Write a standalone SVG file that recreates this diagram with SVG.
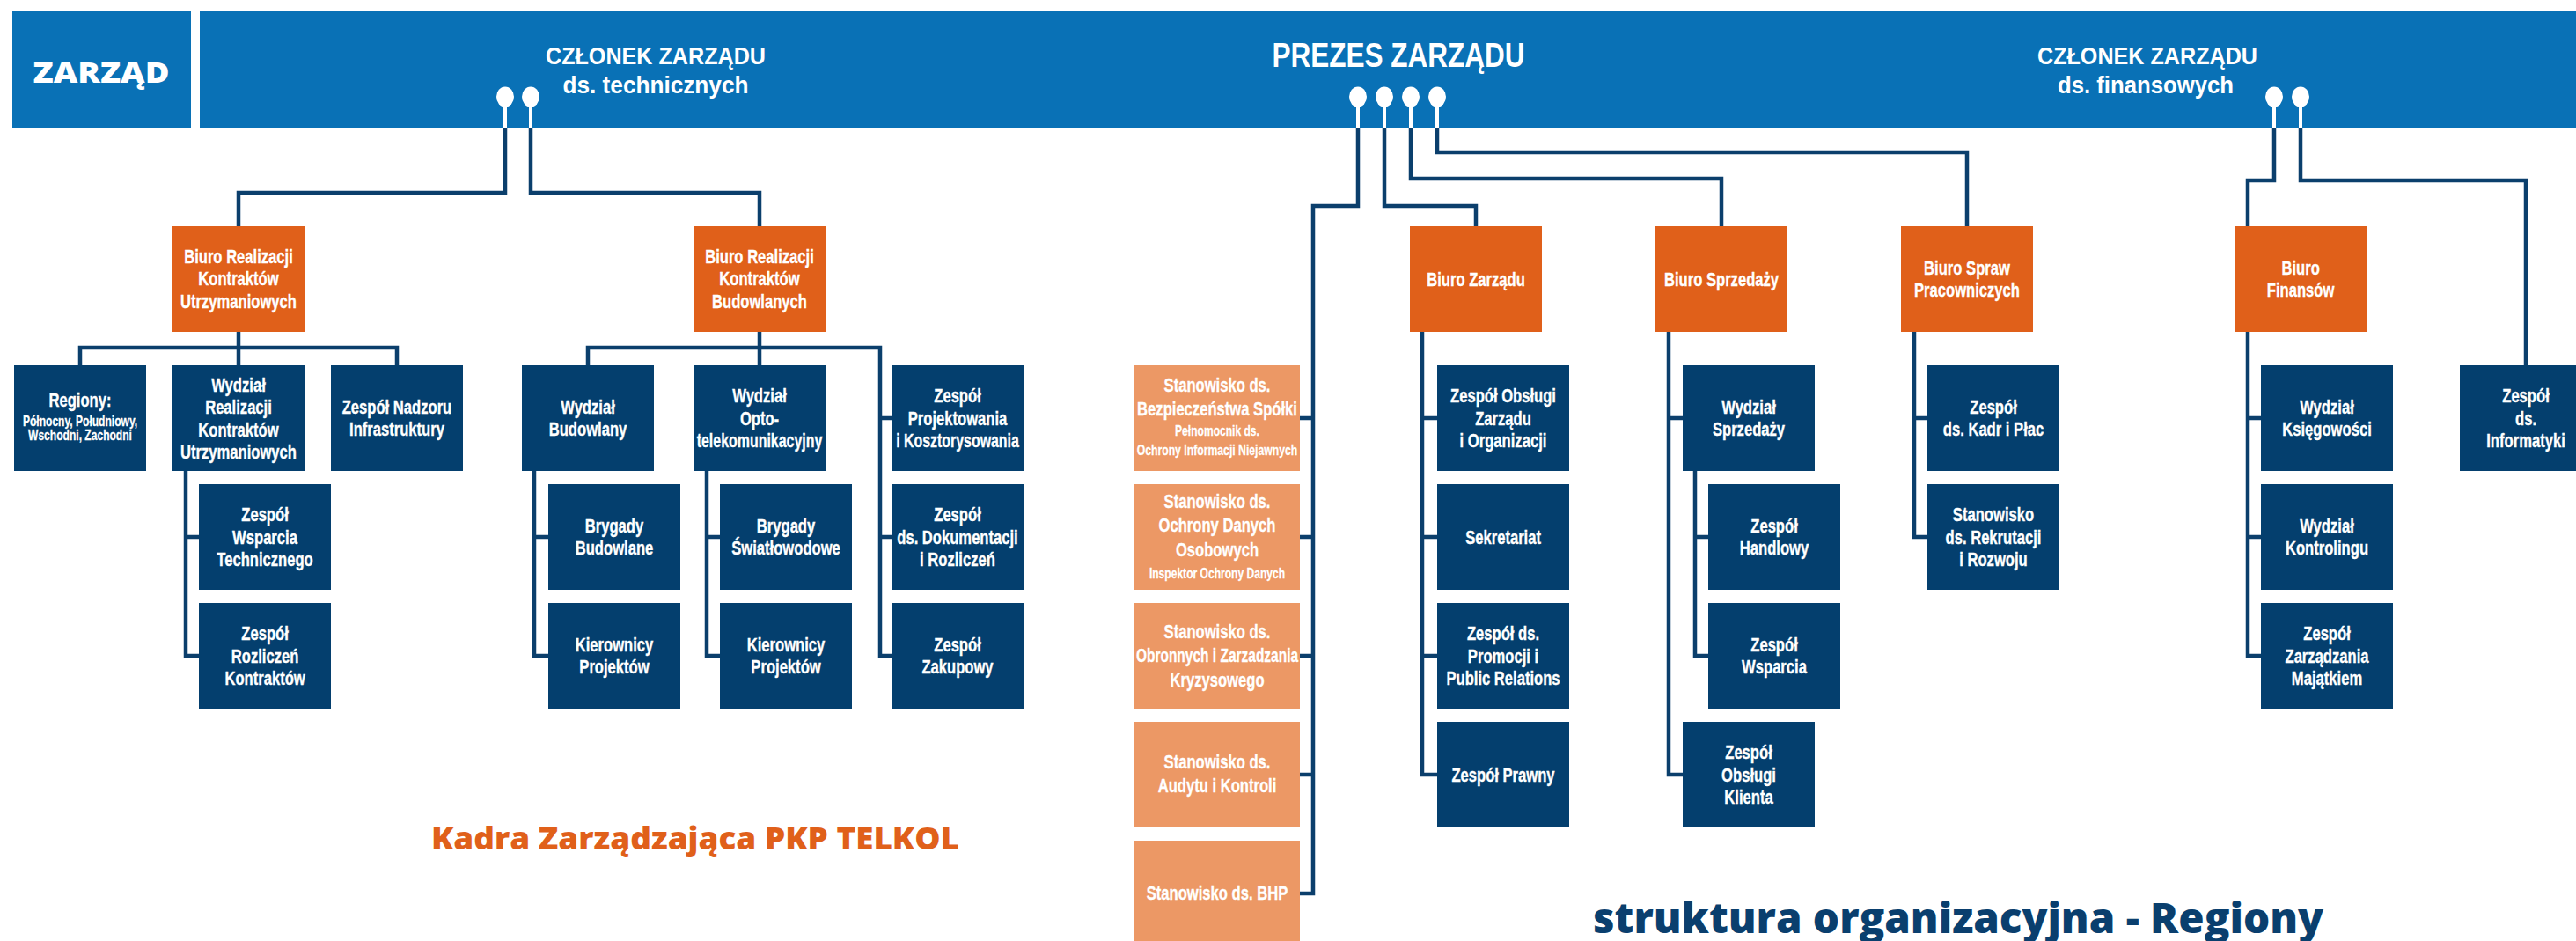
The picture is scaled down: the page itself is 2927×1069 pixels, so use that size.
<svg xmlns="http://www.w3.org/2000/svg" width="2927" height="1069" viewBox="0 0 2927 1069">
<style>
.hb{fill:#0971b6}
.nv{fill:#043f6e}
.or{fill:#e0601a}
.lo{fill:#ec9865}
.t{font-family:'Liberation Sans',Arial,sans-serif;font-weight:bold;font-size:22px;fill:#fff;stroke:#fff;stroke-width:0.35;text-anchor:middle;transform-box:fill-box;transform-origin:center;transform:scaleX(0.755)}
.s{font-size:16px;stroke-width:0.25}
.hd{font-family:'Liberation Sans',Arial,sans-serif;font-weight:bold;font-size:28px;fill:#fff;text-anchor:middle}
.p{font-size:38px}
.big{font-family:'Open Sans','Liberation Sans',sans-serif;font-weight:800;text-anchor:middle}
.ln{stroke:#0b3f6c;stroke-width:4.5;fill:none}
.ws{stroke:#fff;stroke-width:4;fill:none}
</style>
<rect width="2927" height="1069" fill="#fff"/>
<g id="header">
<rect class="hb" x="14" y="12" width="203" height="133"/>
<rect class="hb" x="227" y="12" width="2700" height="133"/>
<text class="big" x="115" y="94" font-size="31" fill="#fff" textLength="155" lengthAdjust="spacingAndGlyphs">ZARZĄD</text>
</g>
<g id="czlonek-tech">
<text class="hd" x="745" y="73" textLength="250" lengthAdjust="spacingAndGlyphs">CZŁONEK ZARZĄDU</text>
<text class="hd" x="745" y="106" textLength="211" lengthAdjust="spacingAndGlyphs">ds. technicznych</text>
</g>
<g id="prezes">
<text class="hd p" x="1589" y="76" textLength="287" lengthAdjust="spacingAndGlyphs">PREZES ZARZĄDU</text>
</g>
<g id="czlonek-fin">
<text class="hd" x="2440" y="73" textLength="250" lengthAdjust="spacingAndGlyphs">CZŁONEK ZARZĄDU</text>
<text class="hd" x="2438" y="106" textLength="200" lengthAdjust="spacingAndGlyphs">ds. finansowych</text>
</g>
<g id="connectors">
<path class="ws" d="M574,110V146M603,110V146M1543,110V146M1573,110V146M1603,110V146M1633,110V146M2584,110V146M2614,110V146"/>
<g fill="#fff">
<ellipse cx="574" cy="110" rx="10" ry="11.5"/><ellipse cx="603" cy="110" rx="10" ry="11.5"/>
<ellipse cx="1543" cy="110" rx="10" ry="11.5"/><ellipse cx="1573" cy="110" rx="10" ry="11.5"/>
<ellipse cx="1603" cy="110" rx="10" ry="11.5"/><ellipse cx="1633" cy="110" rx="10" ry="11.5"/>
<ellipse cx="2584" cy="110" rx="10" ry="11.5"/><ellipse cx="2614" cy="110" rx="10" ry="11.5"/>
</g>
<path class="ln" d="M574,145V219H271V257M603,145V219H863V257"/>
<path class="ln" d="M271,377V415M91,415V395H451V415M211,535V745H226M211,610H226"/>
<path class="ln" d="M863,377V415M668,415V395H1000V745H1013M1000,475H1013M1000,610H1013M607,535V745H623M607,610H623M803,535V745H818M803,610H818"/>
<path class="ln" d="M1543,145V234H1492V1015H1477M1492,475H1477M1492,610H1477M1492,745H1477M1492,880H1477"/>
<path class="ln" d="M1573,145V234H1677V257M1616,377V880H1633M1616,475H1633M1616,610H1633M1616,745H1633"/>
<path class="ln" d="M1603,145V203H1956V257M1896,377V880H1912M1896,475H1912M1926,535V745H1941M1926,610H1941"/>
<path class="ln" d="M1633,145V173H2235V257M2175,377V610H2190M2175,475H2190"/>
<path class="ln" d="M2584,145V205H2554V257M2554,377V745H2569M2554,475H2569M2554,610H2569M2614,145V205H2870V415"/>
</g>
<g id="biuro-rku"><rect class="or" x="196" y="257" width="150" height="120"/><text class="t" x="271" y="299">Biuro Realizacji<tspan x="271" dy="25.5">Kontraktów</tspan><tspan x="271" dy="25.5">Utrzymaniowych</tspan></text></g>
<g id="biuro-rkb"><rect class="or" x="788" y="257" width="150" height="120"/><text class="t" x="863" y="299">Biuro Realizacji<tspan x="863" dy="25.5">Kontraktów</tspan><tspan x="863" dy="25.5">Budowlanych</tspan></text></g>
<g id="biuro-zarzadu"><rect class="or" x="1602" y="257" width="150" height="120"/><text class="t" x="1677" y="325">Biuro Zarządu</text></g>
<g id="biuro-sprzedazy"><rect class="or" x="1881" y="257" width="150" height="120"/><text class="t" x="1956" y="325">Biuro Sprzedaży</text></g>
<g id="biuro-spraw"><rect class="or" x="2160" y="257" width="150" height="120"/><text class="t" x="2235" y="312">Biuro Spraw<tspan x="2235" dy="25.5">Pracowniczych</tspan></text></g>
<g id="biuro-finansow"><rect class="or" x="2539" y="257" width="150" height="120"/><text class="t" x="2614" y="312">Biuro<tspan x="2614" dy="25.5">Finansów</tspan></text></g>

<g id="regiony"><rect class="nv" x="16" y="415" width="150" height="120"/><text class="t" x="91" y="462" font-size="23">Regiony:</text><text class="t s" x="91" y="484">Północny, Południowy,<tspan x="91" dy="16.5">Wschodni, Zachodni</tspan></text></g>
<g id="wydzial-rku"><rect class="nv" x="196" y="415" width="150" height="120"/><text class="t" x="271" y="445">Wydział<tspan x="271" dy="25.5">Realizacji</tspan><tspan x="271" dy="25.5">Kontraktów</tspan><tspan x="271" dy="25.5">Utrzymaniowych</tspan></text></g>
<g id="zespol-nadzoru"><rect class="nv" x="376" y="415" width="150" height="120"/><text class="t" x="451" y="470">Zespół Nadzoru<tspan x="451" dy="25.5">Infrastruktury</tspan></text></g>
<g id="zespol-wsparcia-tech"><rect class="nv" x="226" y="550" width="150" height="120"/><text class="t" x="301" y="592.5">Zespół<tspan x="301" dy="25.5">Wsparcia</tspan><tspan x="301" dy="25.5">Technicznego</tspan></text></g>
<g id="zespol-rozliczen"><rect class="nv" x="226" y="685" width="150" height="120"/><text class="t" x="301" y="727.5">Zespół<tspan x="301" dy="25.5">Rozliczeń</tspan><tspan x="301" dy="25.5">Kontraktów</tspan></text></g>
<g id="wydzial-budowlany"><rect class="nv" x="593" y="415" width="150" height="120"/><text class="t" x="668" y="470">Wydział<tspan x="668" dy="25.5">Budowlany</tspan></text></g>
<g id="wydzial-opto"><rect class="nv" x="788" y="415" width="150" height="120"/><text class="t" x="863" y="457.5">Wydział<tspan x="863" dy="25.5">Opto-</tspan><tspan x="863" dy="25.5" textLength="189" lengthAdjust="spacingAndGlyphs">telekomunikacyjny</tspan></text></g>
<g id="zespol-projektowania"><rect class="nv" x="1013" y="415" width="150" height="120"/><text class="t" x="1088" y="457.5">Zespół<tspan x="1088" dy="25.5">Projektowania</tspan><tspan x="1088" dy="25.5" textLength="185" lengthAdjust="spacingAndGlyphs">i Kosztorysowania</tspan></text></g>
<g id="brygady-budowlane"><rect class="nv" x="623" y="550" width="150" height="120"/><text class="t" x="698" y="605">Brygady<tspan x="698" dy="25.5">Budowlane</tspan></text></g>
<g id="kierownicy-1"><rect class="nv" x="623" y="685" width="150" height="120"/><text class="t" x="698" y="740">Kierownicy<tspan x="698" dy="25.5">Projektów</tspan></text></g>
<g id="brygady-swiatlowodowe"><rect class="nv" x="818" y="550" width="150" height="120"/><text class="t" x="893" y="605">Brygady<tspan x="893" dy="25.5">Światłowodowe</tspan></text></g>
<g id="kierownicy-2"><rect class="nv" x="818" y="685" width="150" height="120"/><text class="t" x="893" y="740">Kierownicy<tspan x="893" dy="25.5">Projektów</tspan></text></g>
<g id="zespol-dokumentacji"><rect class="nv" x="1013" y="550" width="150" height="120"/><text class="t" x="1088" y="592.5">Zespół<tspan x="1088" dy="25.5">ds. Dokumentacji</tspan><tspan x="1088" dy="25.5">i Rozliczeń</tspan></text></g>
<g id="zespol-zakupowy"><rect class="nv" x="1013" y="685" width="150" height="120"/><text class="t" x="1088" y="740">Zespół<tspan x="1088" dy="25.5">Zakupowy</tspan></text></g>

<g id="st-bezpieczenstwa"><rect class="lo" x="1289" y="415" width="188" height="120"/><text class="t" x="1383" y="445">Stanowisko ds.<tspan x="1383" dy="27">Bezpieczeństwa Spółki</tspan></text><text class="t s" x="1383" y="495">Pełnomocnik ds.<tspan x="1383" dy="22" textLength="242" lengthAdjust="spacingAndGlyphs">Ochrony Informacji Niejawnych</tspan></text></g>
<g id="st-odo"><rect class="lo" x="1289" y="550" width="188" height="120"/><text class="t" x="1383" y="577">Stanowisko ds.<tspan x="1383" dy="27.5">Ochrony Danych</tspan><tspan x="1383" dy="27.5">Osobowych</tspan></text><text class="t s" x="1383" y="657">Inspektor Ochrony Danych</text></g>
<g id="st-obronnych"><rect class="lo" x="1289" y="685" width="188" height="120"/><text class="t" x="1383" y="725">Stanowisko ds.<tspan x="1383" dy="27.5" textLength="244" lengthAdjust="spacingAndGlyphs">Obronnych i Zarzadzania</tspan><tspan x="1383" dy="27.5">Kryzysowego</tspan></text></g>
<g id="st-audytu"><rect class="lo" x="1289" y="820" width="188" height="120"/><text class="t" x="1383" y="873">Stanowisko ds.<tspan x="1383" dy="27">Audytu i Kontroli</tspan></text></g>
<g id="st-bhp"><rect class="lo" x="1289" y="955" width="188" height="120"/><text class="t" x="1383" y="1022">Stanowisko ds. BHP</text></g>

<g id="zespol-obslugi-zarzadu"><rect class="nv" x="1633" y="415" width="150" height="120"/><text class="t" x="1708" y="457.5">Zespół Obsługi<tspan x="1708" dy="25.5">Zarządu</tspan><tspan x="1708" dy="25.5">i Organizacji</tspan></text></g>
<g id="sekretariat"><rect class="nv" x="1633" y="550" width="150" height="120"/><text class="t" x="1708" y="618">Sekretariat</text></g>
<g id="zespol-promocji"><rect class="nv" x="1633" y="685" width="150" height="120"/><text class="t" x="1708" y="727.5">Zespół ds.<tspan x="1708" dy="25.5">Promocji i</tspan><tspan x="1708" dy="25.5">Public Relations</tspan></text></g>
<g id="zespol-prawny"><rect class="nv" x="1633" y="820" width="150" height="120"/><text class="t" x="1708" y="888">Zespół Prawny</text></g>
<g id="wydzial-sprzedazy"><rect class="nv" x="1912" y="415" width="150" height="120"/><text class="t" x="1987" y="470">Wydział<tspan x="1987" dy="25.5">Sprzedaży</tspan></text></g>
<g id="zespol-handlowy"><rect class="nv" x="1941" y="550" width="150" height="120"/><text class="t" x="2016" y="605">Zespół<tspan x="2016" dy="25.5">Handlowy</tspan></text></g>
<g id="zespol-wsparcia"><rect class="nv" x="1941" y="685" width="150" height="120"/><text class="t" x="2016" y="740">Zespół<tspan x="2016" dy="25.5">Wsparcia</tspan></text></g>
<g id="zespol-obslugi-klienta"><rect class="nv" x="1912" y="820" width="150" height="120"/><text class="t" x="1987" y="862.5">Zespół<tspan x="1987" dy="25.5">Obsługi</tspan><tspan x="1987" dy="25.5">Klienta</tspan></text></g>
<g id="zespol-kadr"><rect class="nv" x="2190" y="415" width="150" height="120"/><text class="t" x="2265" y="470">Zespół<tspan x="2265" dy="25.5">ds. Kadr i Płac</tspan></text></g>
<g id="st-rekrutacji"><rect class="nv" x="2190" y="550" width="150" height="120"/><text class="t" x="2265" y="592.5">Stanowisko<tspan x="2265" dy="25.5">ds. Rekrutacji</tspan><tspan x="2265" dy="25.5">i Rozwoju</tspan></text></g>
<g id="wydzial-ksiegowosci"><rect class="nv" x="2569" y="415" width="150" height="120"/><text class="t" x="2644" y="470">Wydział<tspan x="2644" dy="25.5">Księgowości</tspan></text></g>
<g id="wydzial-kontrolingu"><rect class="nv" x="2569" y="550" width="150" height="120"/><text class="t" x="2644" y="605">Wydział<tspan x="2644" dy="25.5">Kontrolingu</tspan></text></g>
<g id="zespol-majatku"><rect class="nv" x="2569" y="685" width="150" height="120"/><text class="t" x="2644" y="727.5">Zespół<tspan x="2644" dy="25.5">Zarządzania</tspan><tspan x="2644" dy="25.5">Majątkiem</tspan></text></g>
<g id="zespol-informatyki"><rect class="nv" x="2795" y="415" width="150" height="120"/><text class="t" x="2870" y="457.5">Zespół<tspan x="2870" dy="25.5">ds.</tspan><tspan x="2870" dy="25.5">Informatyki</tspan></text></g>

<g id="titles">
<text class="big" x="790" y="965" font-size="35" fill="#e0601a" textLength="600" lengthAdjust="spacingAndGlyphs">Kadra Zarządzająca PKP TELKOL</text>
<text class="big" x="2225" y="1060" font-size="48" fill="#0a3f6e" textLength="830" lengthAdjust="spacingAndGlyphs">struktura organizacyjna - Regiony</text>
</g>
</svg>
